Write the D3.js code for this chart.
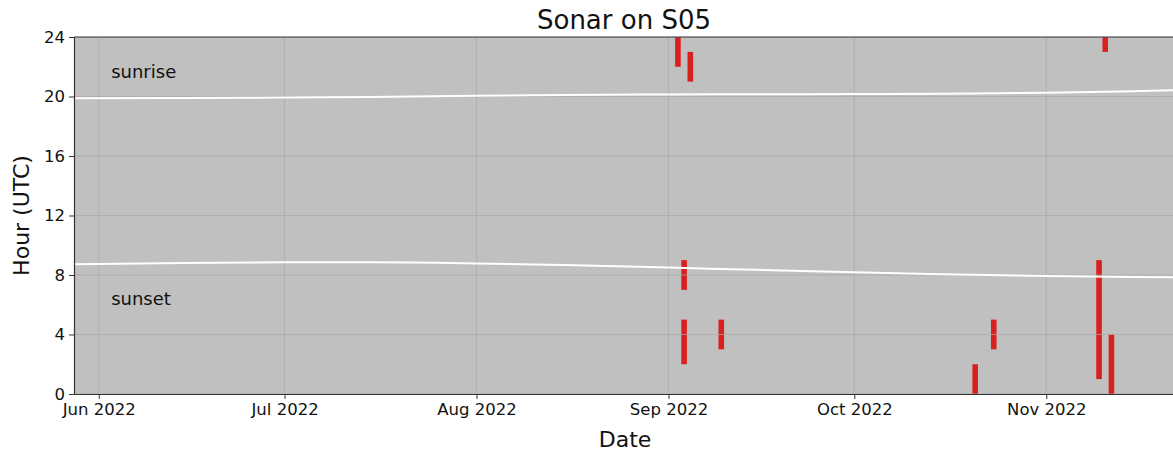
<!DOCTYPE html>
<html>
<head>
<meta charset="utf-8">
<script src="https://cdn.jsdelivr.net/npm/d3@7"></script>
<style>
  html, body { margin: 0; padding: 0; background: #fff; }
  svg { display: block; font-family: "DejaVu Sans", sans-serif; }
</style>
</head>
<body>
<div id="chart"></div>
<script>
// Detections: day, start hour, end hour
const detectionDays = ["2022-09-02", "2022-09-04", "2022-09-03", "2022-09-03", "2022-09-09",
  "2022-10-20", "2022-10-23", "2022-11-09", "2022-11-10", "2022-11-11"];
const detectionStart = [22, 21, 7, 2, 3, 0, 3, 1, 23, 0];
const detectionEnd = [24, 23, 9, 5, 5, 2, 5, 9, 24, 4];

// Sunrise / sunset curves (UTC hour)
const sunDates = ["2022-05-28", "2022-06-15", "2022-07-01", "2022-07-15", "2022-08-01", "2022-08-15",
  "2022-09-01", "2022-09-15", "2022-10-01", "2022-10-15", "2022-11-01", "2022-11-15", "2022-11-26"];
const sunriseHours = [19.88, 19.9, 19.93, 19.97, 20.05, 20.1, 20.14, 20.15, 20.16, 20.19, 20.25, 20.36, 20.46];
const sunsetHours = [8.72, 8.8, 8.85, 8.85, 8.78, 8.68, 8.5, 8.35, 8.18, 8.05, 7.93, 7.86, 7.83];

const hourTicks = [0, 4, 8, 12, 16, 20, 24];
const monthTicks = ["2022-06-01", "2022-07-01", "2022-08-01", "2022-09-01", "2022-10-01", "2022-11-01"];

const width = 1173, height = 455;
const margin = { left: 74, top: 37, right: 0, bottom: 61 };
const parseDay = d3.timeParse("%Y-%m-%d");

const chart = d3.select("#chart").append("svg")
  .attr("width", width).attr("height", height);

const scaleX = d3.scaleTime()
  .domain([parseDay("2022-05-28"), parseDay("2022-11-26")])
  .range([margin.left, margin.left + 182 * 6.193]);
const scaleY = d3.scaleLinear().domain([0, 24]).range([height - margin.bottom, margin.top]);

const plotRight = width + 2;
chart.append("clipPath").attr("id", "plotclip").append("rect")
  .attr("x", margin.left).attr("y", margin.top)
  .attr("width", plotRight - margin.left).attr("height", scaleY(0) - margin.top);

// background
chart.append("rect")
  .attr("x", margin.left).attr("y", margin.top)
  .attr("width", plotRight - margin.left).attr("height", scaleY(0) - margin.top)
  .attr("fill", "#c0c0c0");

const plot = chart.append("g").attr("clip-path", "url(#plotclip)");

// detection bars
const dayMs = 24 * 3600 * 1000;
plot.selectAll("rect.det").data(detectionDays.map((d, i) => ({
  day: parseDay(d), s: detectionStart[i], e: detectionEnd[i]
}))).join("rect")
  .attr("class", "det")
  .attr("x", d => scaleX(d.day) + 0.4)
  .attr("width", d => scaleX(new Date(+d.day + dayMs)) - scaleX(d.day) - 0.6)
  .attr("y", d => scaleY(d.e))
  .attr("height", d => scaleY(d.s) - scaleY(d.e))
  .attr("fill", "#d9201f");

// grid
plot.selectAll("line.gx").data(monthTicks.map(parseDay)).join("line")
  .attr("x1", d => scaleX(d)).attr("x2", d => scaleX(d))
  .attr("y1", margin.top).attr("y2", scaleY(0))
  .attr("stroke", "#a9a9a9").attr("stroke-width", 0.9).attr("stroke-opacity", 0.8);
plot.selectAll("line.gy").data(hourTicks).join("line")
  .attr("x1", margin.left).attr("x2", plotRight)
  .attr("y1", d => scaleY(d)).attr("y2", d => scaleY(d))
  .attr("stroke", "#a9a9a9").attr("stroke-width", 0.9).attr("stroke-opacity", 0.8);

// sun lines
const line = d3.line().curve(d3.curveMonotoneX)
  .x(d => scaleX(d[0])).y(d => scaleY(d[1]));
[sunriseHours, sunsetHours].forEach(vals => {
  plot.append("path")
    .datum(sunDates.map((d, i) => [parseDay(d), vals[i]]))
    .attr("d", line)
    .attr("fill", "none").attr("stroke", "#fff").attr("stroke-width", 2);
});

// labels inside plot
plot.append("text").attr("x", scaleX(parseDay("2022-06-03"))).attr("y", scaleY(21.25))
  .attr("font-size", 18).attr("fill", "#111").text("sunrise");
plot.append("text").attr("x", scaleX(parseDay("2022-06-03"))).attr("y", scaleY(6.0))
  .attr("font-size", 18).attr("fill", "#111").text("sunset");

// axes
const xAxis = d3.axisBottom(scaleX)
  .tickValues(monthTicks.map(parseDay))
  .tickFormat(d3.timeFormat("%b %Y"))
  .tickSize(5).tickSizeOuter(0).tickPadding(4);
const yAxis = d3.axisLeft(scaleY)
  .tickValues(hourTicks).tickSize(5).tickSizeOuter(0).tickPadding(4);

const gx = chart.append("g").attr("transform", `translate(0, ${scaleY(0)})`).call(xAxis);
const gy = chart.append("g").attr("transform", `translate(${margin.left}, 0)`).call(yAxis);
[gx, gy].forEach(g => {
  g.selectAll("text").attr("font-size", 16.5).attr("font-family", "DejaVu Sans").attr("fill", "#111");
  g.selectAll("line").attr("stroke", "#333");
  g.select(".domain").attr("stroke", "#333").attr("stroke-width", 1.2);
});

// top spine
chart.append("line")
  .attr("x1", margin.left).attr("x2", plotRight)
  .attr("y1", margin.top).attr("y2", margin.top)
  .attr("stroke", "#333").attr("stroke-width", 1.2);

// title + axis labels
chart.append("text").attr("x", 624).attr("y", 29).attr("text-anchor", "middle")
  .attr("font-size", 26).attr("fill", "#111").text("Sonar on S05");
chart.append("text").attr("x", 625).attr("y", 447).attr("text-anchor", "middle")
  .attr("font-size", 22).attr("fill", "#111").text("Date");
chart.append("text").attr("transform", `translate(29, ${(margin.top + scaleY(0)) / 2}) rotate(-90)`)
  .attr("text-anchor", "middle")
  .attr("font-size", 22).attr("fill", "#111").text("Hour (UTC)");
</script>
</body>
</html>
